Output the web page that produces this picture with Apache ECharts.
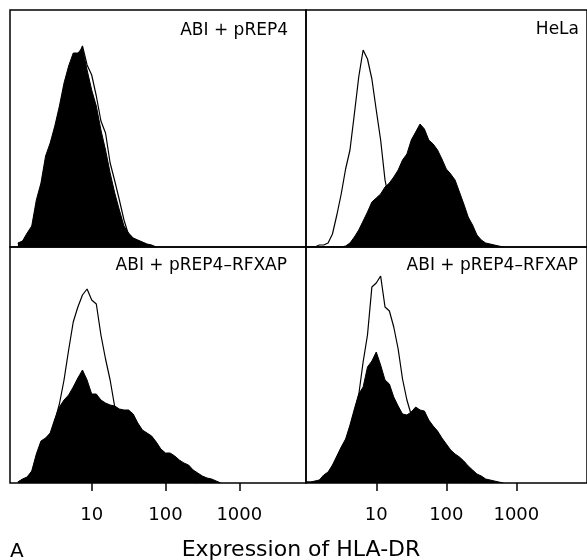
<!DOCTYPE html>
<html>
<head>
<meta charset="utf-8">
<script src="https://cdn.jsdelivr.net/npm/echarts@6/dist/echarts.min.js"></script>
<style>html,body{margin:0;padding:0;background:#fff;}#c{width:587px;height:560px;}</style>
</head>
<body>
<div id="c"></div>
<script>
// Fluorescence channel (bin centres, log-spaced)
const channels = [1, 1.155, 1.334, 1.540, 1.778, 2.054, 2.371, 2.738, 3.162, 3.652, 4.217, 4.870, 5.623, 6.494, 7.499, 8.660,
  10, 11.55, 13.34, 15.40, 17.78, 20.54, 23.71, 27.38, 31.62, 36.52, 42.17, 48.70, 56.23, 64.94, 74.99, 86.60,
  100, 115.5, 133.4, 154.0, 177.8, 205.4, 237.1, 273.8, 316.2, 365.2, 421.7, 487.0, 562.3, 649.4, 749.9, 866.0];

const tickValues = [10, 100, 1000];
const panelLabels = ['ABI + pREP4', 'HeLa', 'ABI + pREP4\u2013RFXAP', 'ABI + pREP4\u2013RFXAP'];
const axisTitle = 'Expression of HLA-DR';
const panelLetter = 'A';

// Panel 1: ABI + pREP4
const p1Fill = [4,6,14,21,47,64,91,104,121,141,164,181,194,194,199,177,157,141,117,97,74,54,37,21,14,9,7,5,3,2,0];
const p1Outline = [3,5,12,18,42,60,86,100,117,137,160,175,188,190,201,182,172,151,126,114,84,66,47,27,12,8,6,4,2,1,0];
// Panel 2: HeLa
const p2Fill = [0,0,0,0,0,0,0,0,0,1,4,10,17,26,35,45,49,53,60,64,70,77,87,93,107,115,123,118,107,103,97,88,78,73,67,55,43,30,22,12,7,4,3,2,1,0];
const p2Outline = [0,0,0,2,2,4,13,32,53,78,97,133,170,197,188,168,137,107,67,45,30,18,10,5,3,1,0];
// Panel 3: ABI + pREP4-RFXAP
const p3Fill = [1,4,6,12,29,42,45,50,64,76,83,88,96,105,113,103,89,89,83,80,78,77,74,73,73,69,60,53,50,47,41,34,30,30,27,23,20,18,13,10,7,5,4,2,0];
const p3Outline = [1,3,5,10,26,40,43,48,62,79,103,133,161,176,188,194,183,179,148,124,103,76,70,65,60,55,48,40,33,26,20,15,11,8,6,4,3,2,1,0];
// Panel 4: ABI + pREP4-RFXAP
const p4Fill = [1,1,2,3,8,11,18,27,36,44,58,74,89,96,116,122,131,118,103,99,86,77,69,68,71,76,73,72,63,57,52,45,39,33,29,26,22,17,13,9,7,4,3,2,1,0];
const p4Outline = [1,1,1,2,6,9,16,25,34,42,55,71,88,121,148,196,200,207,176,172,156,134,104,83,68,60,50,40,32,25,18,13,9,6,4,3,2,1,0];

const panels = [
  {fill: p1Fill, outline: p1Outline},
  {fill: p2Fill, outline: p2Outline},
  {fill: p3Fill, outline: p3Outline},
  {fill: p4Fill, outline: p4Outline}
];

function pairs(counts) { return counts.map((c, i) => [channels[i], c]); }

const FONT = '"DejaVu Sans", sans-serif';
const gridDefs = [
  {left: 10, top: 10, width: 296, height: 237},
  {left: 306, top: 10, width: 296, height: 237},
  {left: 10, top: 247, width: 296, height: 236},
  {left: 306, top: 247, width: 296, height: 236}
];
const xRanges = [[0.7816, 8017], [0.9938, 10187], [0.7816, 8017], [0.9938, 10187]];

const grid = gridDefs.map(g => Object.assign({show: true, borderColor: '#000', borderWidth: 1.5, backgroundColor: 'transparent', containLabel: false}, g));

const xAxis = gridDefs.map((g, i) => {
  const bottom = i >= 2;
  return {
    type: 'log', logBase: 10, gridIndex: i, min: xRanges[i][0], max: xRanges[i][1],
    axisLine: {show: false},
    splitLine: {show: false},
    axisTick: {show: bottom, inside: false, length: 8, lineStyle: {color: '#000', width: 1.5}, customValues: tickValues},
    axisLabel: {show: bottom, customValues: tickValues, color: '#000', fontSize: 18, fontFamily: FONT, margin: 23,
      formatter: v => String(Math.round(v))}
  };
});

const yAxis = gridDefs.map((g, i) => ({type: 'value', gridIndex: i, min: 0, max: g.height, show: false}));

const series = [];
panels.forEach((p, i) => {
  series.push({type: 'line', xAxisIndex: i, yAxisIndex: i, showSymbol: false, z: 2,
    lineStyle: {color: '#000', width: 1.2}, data: pairs(p.outline)});
  series.push({type: 'line', xAxisIndex: i, yAxisIndex: i, showSymbol: false, z: 3,
    lineStyle: {color: '#000', width: 1}, areaStyle: {color: '#000', opacity: 1}, data: pairs(p.fill)});
});

const labelPos = [[288, 31], [579, 30], [287, 265.5], [578, 265.5]];
const graphic = panelLabels.map((t, i) => ({
  type: 'text', z: 10,
  style: {text: t, x: labelPos[i][0], y: labelPos[i][1], align: 'right', verticalAlign: 'middle',
    font: '17px ' + FONT, fill: '#000'}
}));
graphic.push({type: 'text', z: 10, style: {text: axisTitle, x: 301, y: 550.5, align: 'center', verticalAlign: 'middle', font: '22px ' + FONT, fill: '#000'}});
graphic.push({type: 'text', z: 10, style: {text: panelLetter, x: 10, y: 552, align: 'left', verticalAlign: 'middle', font: '20px ' + FONT, fill: '#000'}});

const chart = echarts.init(document.getElementById('c'), null, {renderer: 'canvas'});
chart.setOption({animation: false, backgroundColor: '#fff', grid, xAxis, yAxis, series, graphic});
</script>
</body>
</html>
